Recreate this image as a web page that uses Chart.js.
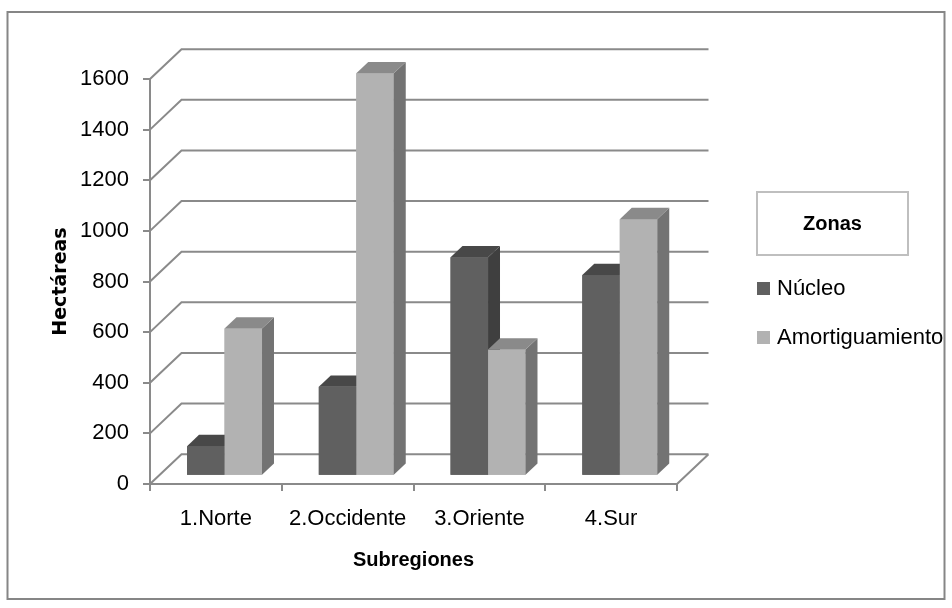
<!DOCTYPE html>
<html>
<head>
<meta charset="utf-8">
<title>Hectáreas por subregión y zona</title>
<script src="https://cdn.jsdelivr.net/npm/chart.js@4/dist/chart.umd.min.js"></script>
<style>
  html, body { margin: 0; padding: 0; background: #ffffff; }
  #wrap { width: 952px; height: 608px; }
  canvas { display: block; }
</style>
</head>
<body>
<div id="wrap"><canvas id="grafico" width="952" height="608"></canvas></div>
<script>
// Datos
const subregiones = ['1.Norte', '2.Occidente', '3.Oriente', '4.Sur'];
const nucleo = [117, 352, 863, 793];
const amortiguamiento = [582, 1590, 499, 1014];
const marcasY = [0, 200, 400, 600, 800, 1000, 1200, 1400, 1600];
const zonas = ['Núcleo', 'Amortiguamiento'];

// Estilo
const FUENTE = "'Liberation Sans', Arial, sans-serif";
const GRIS_LINEA = '#8a8a8a';
const CARAS = [
  { frente: '#606060', lado: '#3f3f3f', techo: '#484848' },
  { frente: '#b2b2b2', lado: '#737373', techo: '#8a8a8a' }
];
// Perspectiva: desplazamiento de fondo del piso y posición de las columnas en profundidad
const PROF = { dx: 31.5, dy: -29.8 };
const FRENTE_COL = 0.275;
const GROSOR_COL = 0.38;

Chart.defaults.font.family = FUENTE;
Chart.defaults.color = '#000000';

const perspectiva = {
  id: 'perspectiva',
  beforeDraw(chart) {
    const ctx = chart.ctx;
    ctx.save();
    ctx.fillStyle = '#ffffff';
    ctx.fillRect(0, 0, chart.width, chart.height);
    ctx.strokeStyle = '#868686';
    ctx.lineWidth = 2;
    ctx.strokeRect(7.5, 12, 937, 587);
    ctx.restore();
  },
  beforeDatasetsDraw(chart) {
    const ctx = chart.ctx;
    const { left, right } = chart.chartArea;
    const y = chart.scales.y;
    ctx.save();
    ctx.strokeStyle = GRIS_LINEA;
    ctx.lineWidth = 2;
    ctx.beginPath();
    marcasY.forEach(v => {
      const py = y.getPixelForValue(v);
      ctx.moveTo(left, py);
      ctx.lineTo(left + PROF.dx, py + PROF.dy);
      ctx.lineTo(right + PROF.dx, py + PROF.dy);
      if (v === 0) {
        ctx.moveTo(right, py);
        ctx.lineTo(right + PROF.dx, py + PROF.dy);
      }
    });
    ctx.stroke();
    ctx.restore();
    // columnas dibujadas sobre el plano medio del piso
    ctx.save();
    ctx.translate(PROF.dx * FRENTE_COL, PROF.dy * FRENTE_COL);
  },
  afterDatasetsDraw(chart) {
    const ctx = chart.ctx;
    const bx = PROF.dx * GROSOR_COL, by = PROF.dy * GROSOR_COL;
    subregiones.forEach((_, i) => {
      chart.data.datasets.forEach((ds, d) => {
        const el = chart.getDatasetMeta(d).data[i];
        const { x, y, base, width } = el.getProps(['x', 'y', 'base', 'width'], true);
        const l = x - width / 2, r = x + width / 2;
        const c = CARAS[d];
        ctx.fillStyle = c.frente;
        ctx.fillRect(l, y, width, base - y);
        ctx.fillStyle = c.lado;
        ctx.beginPath();
        ctx.moveTo(r, y);
        ctx.lineTo(r + bx, y + by);
        ctx.lineTo(r + bx, base + by);
        ctx.lineTo(r, base);
        ctx.closePath();
        ctx.fill();
        ctx.fillStyle = c.techo;
        ctx.beginPath();
        ctx.moveTo(l, y);
        ctx.lineTo(l + bx, y + by);
        ctx.lineTo(r + bx, y + by);
        ctx.lineTo(r, y);
        ctx.closePath();
        ctx.fill();
      });
    });
    ctx.restore();
  },
  afterDraw(chart) {
    const ctx = chart.ctx;
    ctx.save();
    // leyenda con título enmarcado
    ctx.strokeStyle = '#bfbfbf';
    ctx.lineWidth = 2;
    ctx.strokeRect(757, 192, 151, 63);
    ctx.fillStyle = '#000000';
    ctx.textAlign = 'center';
    ctx.textBaseline = 'middle';
    ctx.font = 'bold 20px ' + FUENTE;
    ctx.fillText('Zonas', 832.5, 224);
    ctx.textAlign = 'left';
    ctx.font = '22px ' + FUENTE;
    zonas.forEach((z, k) => {
      const cy = 289 + k * 49;
      ctx.fillStyle = CARAS[k].frente;
      ctx.fillRect(757, cy - 7, 13, 13);
      ctx.fillStyle = '#000000';
      ctx.fillText(z, 777, cy);
    });
    ctx.restore();
  }
};

new Chart(document.getElementById('grafico'), {
  type: 'bar',
  data: {
    labels: subregiones,
    datasets: [
      { label: zonas[0], data: nucleo, backgroundColor: CARAS[0].frente, borderWidth: 0, clip: false },
      { label: zonas[1], data: amortiguamiento, backgroundColor: CARAS[1].frente, borderWidth: 0, clip: false }
    ]
  },
  options: {
    responsive: false,
    animation: false,
    devicePixelRatio: 1,
    layout: { padding: { top: 79, right: 275, bottom: 0, left: 0 } },
    datasets: { bar: { categoryPercentage: 0.569, barPercentage: 1 } },
    plugins: { legend: { display: false }, tooltip: { enabled: false } },
    scales: {
      x: {
        offset: true,
        grid: { display: true, offset: true, drawOnChartArea: false, drawTicks: true, tickLength: 7, color: GRIS_LINEA, lineWidth: 2 },
        border: { display: true, color: GRIS_LINEA, width: 2 },
        ticks: { font: { size: 22 }, color: '#000000', padding: 15, maxRotation: 0, autoSkip: false },
        title: { display: true, text: 'Subregiones', color: '#000000', font: { size: 20, weight: 'bold' }, padding: { top: 0, bottom: 36 } },
        afterFit(s) { s.height = 124; }
      },
      y: {
        min: 0,
        max: 1600,
        afterBuildTicks(s) { s.ticks = marcasY.map(v => ({ value: v })); },
        grid: { drawOnChartArea: false, drawTicks: true, tickLength: 7, color: GRIS_LINEA, lineWidth: 2 },
        border: { display: true, color: GRIS_LINEA, width: 2 },
        ticks: { font: { size: 22 }, color: '#000000', padding: 14, callback: v => String(v) },
        title: { display: true, text: 'Hectáreas', color: '#000000', font: { family: "'DejaVu Sans', sans-serif", size: 19, weight: 'bold' }, padding: { top: 50, bottom: 0 } },
        afterFit(s) { s.width = 150; }
      }
    }
  },
  plugins: [perspectiva]
});
</script>
</body>
</html>
